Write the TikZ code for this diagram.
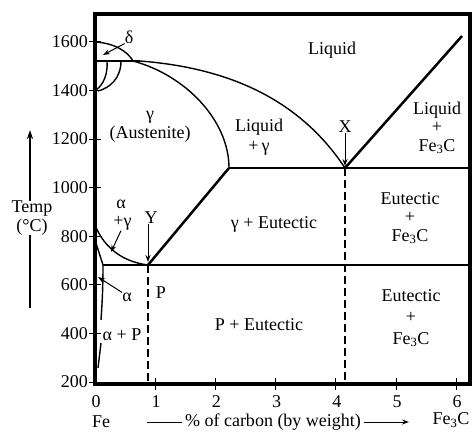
\documentclass[tikz,border=0pt]{standalone}
\usepackage{fontspec}
\setmainfont{Liberation Serif}
\usetikzlibrary{arrows.meta}

\begin{document}
\begin{tikzpicture}[x=1pt, y=-1pt,
    t/.style={font=\fontsize{18}{18.5}\selectfont, inner sep=0pt, align=center},
    bnd/.style={line width=1.4pt},
    heavy/.style={line width=2.5pt},
    dsh/.style={line width=2pt, dash pattern=on 8pt off 4pt},
    ar/.style={line width=1pt, -{Stealth[length=7pt,width=5pt]}}]
  \useasboundingbox (0,0) rectangle (473,434);

  % frame and ticks
  \draw[line width=3.2pt] (95,14) rectangle (470,384);
  \foreach \v [count=\k from 0] in {200,400,...,1600} {
    \draw[line width=1pt] (89,382-48.6*\k) -- (101,382-48.6*\k);
    \node[t, anchor=east] (ty\v) at (88,382-48.6*\k) {\v};
  }
  \foreach \v in {0,...,6} {
    \node[t] (tx\v) at (96+60.2*\v,402) {\v};
  }
  \foreach \v in {1,...,6} {
    \draw[line width=1pt] (95+60.2*\v,378) -- (95+60.2*\v,390);
  }

  % phase boundaries
  \draw[bnd] (95,42) .. controls (115,43) and (128,52) .. (133,61);
  \draw[heavy] (95,61) -- (140,61);
  \draw[bnd] (140,61) .. controls (230,68) and (300,100) .. (345,168);
  \draw[bnd] (133,61) .. controls (185,75) and (229,120) .. (229,168);
  \draw[bnd] (107,61) .. controls (108,75) and (103,85) .. (96,90);
  \draw[bnd] (121,61) .. controls (121,78) and (110,88) .. (98,91);
  \draw[heavy] (229,168) -- (470,168);
  \draw[heavy] (229,168) -- (148,265);
  \draw[heavy] (345,168) -- (462,36);
  \draw[bnd] (95,225) .. controls (105,250) and (125,262) .. (148,265);
  \draw[bnd] (95,240) -- (103,265);
  \draw[line width=2.2pt] (103,265) -- (470,265);
  \draw[bnd] (103,265) .. controls (103,290) and (102,305) .. (101,320);
  \draw[bnd] (101,343) -- (98,368);
  \draw[dsh] (148,265) -- (148,384);
  \draw[dsh] (345,168) -- (345,384);

  % region labels
  \node[t] (liq) at (332,50) {Liquid};
  \node[t] (liqg) at (259,137) {Liquid\\[1pt]+\,γ};
  \node[t] (liqc) at (437,128) {Liquid\\+\\Fe\textsubscript{3}C};
  \node[t] (aus) at (150,127) {γ\\(Austenite)};
  \node[t] (geut) at (274,224) {γ + Eutectic};
  \node[t] (eutc) at (410,218) {Eutectic\\+\\Fe\textsubscript{3}C};
  \node[t] (peut) at (259,325) {P + Eutectic};
  \node[t] (eutc2) at (411,318) {Eutectic\\[3pt]+\\[3pt]Fe\textsubscript{3}C};
  \node[t] (ap) at (122,335) {α + P};
  \node[t] (ag) at (121,215) {α\\\,+γ};

  % point labels and pointers
  \node[t] (dlt) at (129,37) {δ};
  \node[t] (ptx) at (345,127) {X};
  \node[t] (pty) at (151,218) {Y};
  \node[t] (ptp) at (161,293) {P};
  \node[t] (alf) at (127,297) {α};
  \coordinate (dtip) at (103,55);
  \coordinate (xtip) at (345,166);
  \coordinate (ytip) at (148,262);
  \coordinate (agtip) at (111,252);
  \coordinate (atip) at (98,277);
  \draw[ar] (dlt.south west) -- (dtip);
  \draw[ar] (ptx.south) -- (xtip);
  \draw[ar] (pty.south -| ytip) -- (ytip);
  \draw[ar] (ag.south) -- (agtip);
  \draw[ar] (alf.north west) -- (atip);

  % axis titles
  \node[t] (temp) at (32,218) {Temp\\(°C)};
  \coordinate (tbot) at (30,308);
  \coordinate (ttop) at (30,130);
  \draw[line width=1.5pt] (tbot) -- (temp.south -| tbot);
  \draw[line width=1.5pt, -{Stealth[length=9pt,width=6pt]}] (temp.north -| ttop) -- (ttop);
  \node[t] (fe) at (101,422) {Fe};
  \node[t] (fec) at (451,420) {Fe\textsubscript{3}C};
  \node[t, inner sep=3pt] (xlab) at (273,422) {\% of carbon (by weight)};
  \coordinate (xa) at (147,422);
  \coordinate (xb) at (409,422);
  \draw[line width=1pt] (xa) -- (xlab.west);
  \draw[ar] (xlab.east) -- (xb);
\end{tikzpicture}
\end{document}
